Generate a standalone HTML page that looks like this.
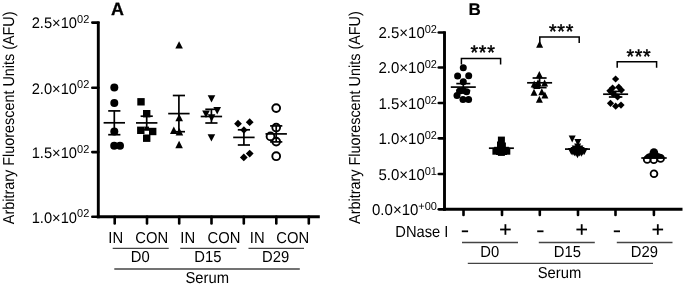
<!DOCTYPE html>
<html><head><meta charset="utf-8"><title>Figure</title>
<style>
html,body{margin:0;padding:0;background:#fff;}
body{width:685px;height:286px;overflow:hidden;}
svg{display:block;filter:grayscale(1);}
svg text{font-family:"Liberation Sans",sans-serif;fill:#000;text-rendering:geometricPrecision;}
</style></head>
<body>
<svg width="685" height="286" viewBox="0 0 685 286">
<rect x="0" y="0" width="685" height="286" fill="#fff"/>
<line x1="98.30" y1="21.50" x2="98.30" y2="218.25" stroke="#000" stroke-width="2.9" stroke-linecap="butt"/>
<line x1="96.85" y1="216.80" x2="319.80" y2="216.80" stroke="#000" stroke-width="2.9" stroke-linecap="butt"/>
<line x1="92.30" y1="22.60" x2="98.30" y2="22.60" stroke="#000" stroke-width="2.6" stroke-linecap="round"/>
<text transform="translate(89.30,28.40) scale(1,1.04)" font-size="14.7" text-anchor="end">2.5×10<tspan font-size="11.0" dy="-5.00">02</tspan></text>
<line x1="92.30" y1="87.70" x2="98.30" y2="87.70" stroke="#000" stroke-width="2.6" stroke-linecap="round"/>
<text transform="translate(89.30,93.50) scale(1,1.04)" font-size="14.7" text-anchor="end">2.0×10<tspan font-size="11.0" dy="-5.00">02</tspan></text>
<line x1="92.30" y1="152.10" x2="98.30" y2="152.10" stroke="#000" stroke-width="2.6" stroke-linecap="round"/>
<text transform="translate(89.30,157.90) scale(1,1.04)" font-size="14.7" text-anchor="end">1.5×10<tspan font-size="11.0" dy="-5.00">02</tspan></text>
<line x1="92.30" y1="216.70" x2="98.30" y2="216.70" stroke="#000" stroke-width="2.6" stroke-linecap="round"/>
<text transform="translate(89.30,222.50) scale(1,1.04)" font-size="14.7" text-anchor="end">1.0×10<tspan font-size="11.0" dy="-5.00">02</tspan></text>
<line x1="114.70" y1="216.80" x2="114.70" y2="223.40" stroke="#000" stroke-width="2.6" stroke-linecap="round"/>
<line x1="147.00" y1="216.80" x2="147.00" y2="223.40" stroke="#000" stroke-width="2.6" stroke-linecap="round"/>
<line x1="179.20" y1="216.80" x2="179.20" y2="223.40" stroke="#000" stroke-width="2.6" stroke-linecap="round"/>
<line x1="211.50" y1="216.80" x2="211.50" y2="223.40" stroke="#000" stroke-width="2.6" stroke-linecap="round"/>
<line x1="243.80" y1="216.80" x2="243.80" y2="223.40" stroke="#000" stroke-width="2.6" stroke-linecap="round"/>
<line x1="276.30" y1="216.80" x2="276.30" y2="223.40" stroke="#000" stroke-width="2.6" stroke-linecap="round"/>
<line x1="308.80" y1="216.80" x2="308.80" y2="223.40" stroke="#000" stroke-width="2.6" stroke-linecap="round"/>
<text transform="translate(111.00,15.10) scale(1,1.0)" font-size="17.9" text-anchor="start" font-weight="bold" stroke="#000" stroke-width="0.3">A</text>
<text transform="translate(108.30,243.00) scale(1,1.07)" font-size="14.8" text-anchor="start" font-weight="normal" >IN</text>
<text transform="translate(135.30,243.00) scale(1,1.07)" font-size="14.8" text-anchor="start" font-weight="normal" >CON</text>
<text transform="translate(180.30,243.00) scale(1,1.07)" font-size="14.8" text-anchor="start" font-weight="normal" >IN</text>
<text transform="translate(207.60,243.00) scale(1,1.07)" font-size="14.8" text-anchor="start" font-weight="normal" >CON</text>
<text transform="translate(249.80,243.00) scale(1,1.07)" font-size="14.8" text-anchor="start" font-weight="normal" >IN</text>
<text transform="translate(276.20,243.00) scale(1,1.07)" font-size="14.8" text-anchor="start" font-weight="normal" >CON</text>
<line x1="112.70" y1="248.40" x2="168.70" y2="248.40" stroke="#444" stroke-width="1.3" stroke-linecap="butt"/>
<text transform="translate(140.20,262.20) scale(1,1.07)" font-size="14.8" text-anchor="middle" font-weight="normal" >D0</text>
<line x1="180.20" y1="248.40" x2="236.40" y2="248.40" stroke="#444" stroke-width="1.3" stroke-linecap="butt"/>
<text transform="translate(207.80,262.20) scale(1,1.07)" font-size="14.8" text-anchor="middle" font-weight="normal" >D15</text>
<line x1="248.50" y1="248.40" x2="304.00" y2="248.40" stroke="#444" stroke-width="1.3" stroke-linecap="butt"/>
<text transform="translate(275.60,262.20) scale(1,1.07)" font-size="14.8" text-anchor="middle" font-weight="normal" >D29</text>
<line x1="114.30" y1="269.00" x2="299.80" y2="269.00" stroke="#444" stroke-width="1.3" stroke-linecap="butt"/>
<text transform="translate(207.20,283.00) scale(1,1.07)" font-size="14.8" text-anchor="middle" font-weight="normal" >Serum</text>
<text transform="translate(14.1,117.8) rotate(-90) scale(1,1.1)" font-size="14.4" text-anchor="middle">Arbitrary Fluorescent Units (AFU)</text>
<circle cx="114.30" cy="87.60" r="4.0" fill="#000"/>
<circle cx="114.30" cy="103.00" r="4.0" fill="#000"/>
<circle cx="114.30" cy="131.40" r="4.0" fill="#000"/>
<circle cx="114.20" cy="145.80" r="4.0" fill="#000"/>
<circle cx="120.00" cy="145.80" r="4.0" fill="#000"/>
<line x1="114.30" y1="110.90" x2="114.30" y2="134.70" stroke="#000" stroke-width="1.7" stroke-linecap="butt"/>
<line x1="103.60" y1="122.80" x2="125.00" y2="122.80" stroke="#000" stroke-width="1.7" stroke-linecap="butt"/>
<line x1="108.20" y1="110.90" x2="120.40" y2="110.90" stroke="#000" stroke-width="1.7" stroke-linecap="butt"/>
<line x1="108.20" y1="134.70" x2="120.40" y2="134.70" stroke="#000" stroke-width="1.7" stroke-linecap="butt"/>
<rect x="137.30" y="98.10" width="7.4" height="7.4" fill="#000"/>
<rect x="143.00" y="110.00" width="7.4" height="7.4" fill="#000"/>
<rect x="137.10" y="126.60" width="7.4" height="7.4" fill="#000"/>
<rect x="149.00" y="127.80" width="7.4" height="7.4" fill="#000"/>
<rect x="143.00" y="134.50" width="7.4" height="7.4" fill="#000"/>
<line x1="146.70" y1="116.20" x2="146.70" y2="129.60" stroke="#000" stroke-width="1.7" stroke-linecap="butt"/>
<line x1="136.00" y1="122.90" x2="157.40" y2="122.90" stroke="#000" stroke-width="1.7" stroke-linecap="butt"/>
<line x1="140.60" y1="116.20" x2="152.80" y2="116.20" stroke="#000" stroke-width="1.7" stroke-linecap="butt"/>
<line x1="140.60" y1="129.60" x2="152.80" y2="129.60" stroke="#000" stroke-width="1.7" stroke-linecap="butt"/>
<rect x="144.4" y="126.6" width="4.6" height="4.0" fill="#000"/>
<polygon points="179.10,41.20 175.30,48.60 182.90,48.60" fill="#000"/>
<polygon points="179.20,113.80 175.40,121.20 183.00,121.20" fill="#000"/>
<polygon points="173.80,126.60 170.00,134.00 177.60,134.00" fill="#000"/>
<polygon points="179.40,128.00 175.60,135.40 183.20,135.40" fill="#000"/>
<polygon points="179.10,140.80 175.30,148.20 182.90,148.20" fill="#000"/>
<line x1="178.90" y1="95.50" x2="178.90" y2="131.70" stroke="#000" stroke-width="1.7" stroke-linecap="butt"/>
<line x1="168.20" y1="113.60" x2="189.60" y2="113.60" stroke="#000" stroke-width="1.7" stroke-linecap="butt"/>
<line x1="172.80" y1="95.50" x2="185.00" y2="95.50" stroke="#000" stroke-width="1.7" stroke-linecap="butt"/>
<line x1="172.80" y1="131.70" x2="185.00" y2="131.70" stroke="#000" stroke-width="1.7" stroke-linecap="butt"/>
<polygon points="207.70,95.20 215.30,95.20 211.50,102.60" fill="#000"/>
<polygon points="213.40,107.00 221.00,107.00 217.20,114.40" fill="#000"/>
<polygon points="202.20,110.60 209.80,110.60 206.00,118.00" fill="#000"/>
<polygon points="207.80,114.30 215.40,114.30 211.60,121.70" fill="#000"/>
<polygon points="207.60,134.20 215.20,134.20 211.40,141.60" fill="#000"/>
<line x1="211.40" y1="109.30" x2="211.40" y2="123.00" stroke="#000" stroke-width="1.7" stroke-linecap="butt"/>
<line x1="200.70" y1="116.50" x2="222.10" y2="116.50" stroke="#000" stroke-width="1.7" stroke-linecap="butt"/>
<line x1="205.30" y1="109.30" x2="217.50" y2="109.30" stroke="#000" stroke-width="1.7" stroke-linecap="butt"/>
<line x1="205.30" y1="123.00" x2="217.50" y2="123.00" stroke="#000" stroke-width="1.7" stroke-linecap="butt"/>
<polygon points="238.00,119.80 241.90,123.70 238.00,127.60 234.10,123.70" fill="#000"/>
<polygon points="249.70,118.30 253.60,122.20 249.70,126.10 245.80,122.20" fill="#000"/>
<polygon points="243.90,126.30 247.60,130.00 243.90,133.70 240.20,130.00" fill="#000"/>
<polygon points="249.70,149.70 253.60,153.60 249.70,157.50 245.80,153.60" fill="#000"/>
<polygon points="243.80,153.50 247.70,157.40 243.80,161.30 239.90,157.40" fill="#000"/>
<line x1="243.90" y1="129.80" x2="243.90" y2="145.00" stroke="#000" stroke-width="1.7" stroke-linecap="butt"/>
<line x1="233.20" y1="137.40" x2="254.60" y2="137.40" stroke="#000" stroke-width="1.7" stroke-linecap="butt"/>
<line x1="237.80" y1="129.80" x2="250.00" y2="129.80" stroke="#000" stroke-width="1.7" stroke-linecap="butt"/>
<line x1="237.80" y1="145.00" x2="250.00" y2="145.00" stroke="#000" stroke-width="1.7" stroke-linecap="butt"/>
<circle cx="276.20" cy="108.10" r="3.9" fill="none" stroke="#000" stroke-width="1.9"/>
<circle cx="276.20" cy="127.60" r="3.9" fill="none" stroke="#000" stroke-width="1.9"/>
<circle cx="270.50" cy="136.40" r="3.9" fill="none" stroke="#000" stroke-width="1.9"/>
<circle cx="276.20" cy="141.60" r="3.9" fill="none" stroke="#000" stroke-width="1.9"/>
<circle cx="276.20" cy="156.20" r="3.9" fill="none" stroke="#000" stroke-width="1.9"/>
<line x1="276.20" y1="125.90" x2="276.20" y2="141.90" stroke="#000" stroke-width="1.7" stroke-linecap="butt"/>
<line x1="265.50" y1="133.90" x2="286.90" y2="133.90" stroke="#000" stroke-width="1.7" stroke-linecap="butt"/>
<line x1="270.10" y1="125.90" x2="282.30" y2="125.90" stroke="#000" stroke-width="1.7" stroke-linecap="butt"/>
<line x1="270.10" y1="141.90" x2="282.30" y2="141.90" stroke="#000" stroke-width="1.7" stroke-linecap="butt"/>
<line x1="444.50" y1="31.40" x2="444.50" y2="210.75" stroke="#000" stroke-width="2.9" stroke-linecap="butt"/>
<line x1="443.05" y1="209.30" x2="682.50" y2="209.30" stroke="#000" stroke-width="2.9" stroke-linecap="butt"/>
<line x1="438.80" y1="32.50" x2="444.50" y2="32.50" stroke="#000" stroke-width="2.7" stroke-linecap="round"/>
<text transform="translate(437.00,38.30) scale(1,1.04)" font-size="15.0" text-anchor="end">2.5×10<tspan font-size="11.0" dy="-5.00">02</tspan></text>
<line x1="438.80" y1="67.50" x2="444.50" y2="67.50" stroke="#000" stroke-width="2.7" stroke-linecap="round"/>
<text transform="translate(437.00,73.30) scale(1,1.04)" font-size="15.0" text-anchor="end">2.0×10<tspan font-size="11.0" dy="-5.00">02</tspan></text>
<line x1="438.80" y1="103.00" x2="444.50" y2="103.00" stroke="#000" stroke-width="2.7" stroke-linecap="round"/>
<text transform="translate(437.00,108.80) scale(1,1.04)" font-size="15.0" text-anchor="end">1.5×10<tspan font-size="11.0" dy="-5.00">02</tspan></text>
<line x1="438.80" y1="138.30" x2="444.50" y2="138.30" stroke="#000" stroke-width="2.7" stroke-linecap="round"/>
<text transform="translate(437.00,144.10) scale(1,1.04)" font-size="15.0" text-anchor="end">1.0×10<tspan font-size="11.0" dy="-5.00">02</tspan></text>
<line x1="438.80" y1="174.00" x2="444.50" y2="174.00" stroke="#000" stroke-width="2.7" stroke-linecap="round"/>
<text transform="translate(437.00,179.80) scale(1,1.04)" font-size="15.0" text-anchor="end">5.0×10<tspan font-size="11.0" dy="-5.00">01</tspan></text>
<line x1="438.80" y1="209.30" x2="444.50" y2="209.30" stroke="#000" stroke-width="2.7" stroke-linecap="round"/>
<text transform="translate(437.00,215.10) scale(1,1.04)" font-size="15.0" text-anchor="end">0.0×10<tspan font-size="11.0" dy="-5.00">+00</tspan></text>
<line x1="463.50" y1="209.30" x2="463.50" y2="214.90" stroke="#000" stroke-width="2.6" stroke-linecap="round"/>
<line x1="502.00" y1="209.30" x2="502.00" y2="214.90" stroke="#000" stroke-width="2.6" stroke-linecap="round"/>
<line x1="539.80" y1="209.30" x2="539.80" y2="214.90" stroke="#000" stroke-width="2.6" stroke-linecap="round"/>
<line x1="578.00" y1="209.30" x2="578.00" y2="214.90" stroke="#000" stroke-width="2.6" stroke-linecap="round"/>
<line x1="615.50" y1="209.30" x2="615.50" y2="214.90" stroke="#000" stroke-width="2.6" stroke-linecap="round"/>
<line x1="653.90" y1="209.30" x2="653.90" y2="214.90" stroke="#000" stroke-width="2.6" stroke-linecap="round"/>
<text transform="translate(468.40,15.10) scale(1,1.0)" font-size="17.0" text-anchor="start" font-weight="bold" stroke="#000" stroke-width="0.15">B</text>
<text transform="translate(395.30,237.40) scale(1,1.09)" font-size="14.7" text-anchor="start" font-weight="normal" >DNase I</text>
<line x1="461.80" y1="231.30" x2="468.10" y2="231.30" stroke="#000" stroke-width="1.8" stroke-linecap="butt"/>
<line x1="537.20" y1="231.30" x2="543.50" y2="231.30" stroke="#000" stroke-width="1.8" stroke-linecap="butt"/>
<line x1="613.80" y1="231.30" x2="620.00" y2="231.30" stroke="#000" stroke-width="1.8" stroke-linecap="butt"/>
<line x1="500.10" y1="229.50" x2="510.70" y2="229.50" stroke="#000" stroke-width="1.8" stroke-linecap="butt"/>
<line x1="505.40" y1="224.20" x2="505.40" y2="234.80" stroke="#000" stroke-width="1.8" stroke-linecap="butt"/>
<line x1="576.40" y1="229.50" x2="587.00" y2="229.50" stroke="#000" stroke-width="1.8" stroke-linecap="butt"/>
<line x1="581.70" y1="224.20" x2="581.70" y2="234.80" stroke="#000" stroke-width="1.8" stroke-linecap="butt"/>
<line x1="652.50" y1="229.50" x2="663.10" y2="229.50" stroke="#000" stroke-width="1.8" stroke-linecap="butt"/>
<line x1="657.80" y1="224.20" x2="657.80" y2="234.80" stroke="#000" stroke-width="1.8" stroke-linecap="butt"/>
<line x1="462.00" y1="242.50" x2="518.00" y2="242.50" stroke="#444" stroke-width="1.3" stroke-linecap="butt"/>
<text transform="translate(489.80,257.20) scale(1,1.07)" font-size="14.8" text-anchor="middle" font-weight="normal" >D0</text>
<line x1="538.80" y1="242.50" x2="594.80" y2="242.50" stroke="#444" stroke-width="1.3" stroke-linecap="butt"/>
<text transform="translate(567.40,257.20) scale(1,1.07)" font-size="14.8" text-anchor="middle" font-weight="normal" >D15</text>
<line x1="616.80" y1="242.50" x2="672.50" y2="242.50" stroke="#444" stroke-width="1.3" stroke-linecap="butt"/>
<text transform="translate(644.30,257.20) scale(1,1.07)" font-size="14.8" text-anchor="middle" font-weight="normal" >D29</text>
<line x1="467.80" y1="263.30" x2="653.00" y2="263.30" stroke="#444" stroke-width="1.3" stroke-linecap="butt"/>
<text transform="translate(559.50,277.50) scale(1,1.07)" font-size="14.8" text-anchor="middle" font-weight="normal" >Serum</text>
<text transform="translate(359.9,117.6) rotate(-90) scale(1,1.1)" font-size="14.4" text-anchor="middle">Arbitrary Fluorescent Units (AFU)</text>
<polyline points="461.4,64.6 461.4,58.6 500.6,58.6 500.6,64.6" fill="none" stroke="#000" stroke-width="1.5"/>
<text transform="translate(483.00,59.30) scale(1,1.0)" font-size="19.6" text-anchor="middle" font-weight="normal" stroke="#000" stroke-width="0.5" letter-spacing="0.7">***</text>
<polyline points="539.8,43.0 539.8,37.0 579.2,37.0 579.2,43.0" fill="none" stroke="#000" stroke-width="1.5"/>
<text transform="translate(561.50,38.10) scale(1,1.0)" font-size="19.6" text-anchor="middle" font-weight="normal" stroke="#000" stroke-width="0.5" letter-spacing="0.7">***</text>
<polyline points="617.2,67.8 617.2,61.8 656.6,61.8 656.6,67.8" fill="none" stroke="#000" stroke-width="1.5"/>
<text transform="translate(638.90,62.80) scale(1,1.0)" font-size="19.6" text-anchor="middle" font-weight="normal" stroke="#000" stroke-width="0.5" letter-spacing="0.7">***</text>
<circle cx="463.30" cy="67.80" r="3.5" fill="#000"/>
<circle cx="457.60" cy="76.10" r="3.5" fill="#000"/>
<circle cx="468.70" cy="75.70" r="3.5" fill="#000"/>
<circle cx="463.30" cy="81.70" r="3.5" fill="#000"/>
<circle cx="459.60" cy="91.00" r="3.5" fill="#000"/>
<circle cx="466.60" cy="91.80" r="3.5" fill="#000"/>
<circle cx="457.00" cy="95.40" r="3.5" fill="#000"/>
<circle cx="463.20" cy="90.60" r="3.5" fill="#000"/>
<circle cx="463.00" cy="99.60" r="3.5" fill="#000"/>
<circle cx="468.60" cy="99.60" r="3.5" fill="#000"/>
<line x1="463.30" y1="83.60" x2="463.30" y2="90.60" stroke="#000" stroke-width="1.7" stroke-linecap="butt"/>
<line x1="450.80" y1="87.10" x2="475.80" y2="87.10" stroke="#000" stroke-width="1.7" stroke-linecap="butt"/>
<line x1="456.30" y1="83.60" x2="470.30" y2="83.60" stroke="#000" stroke-width="1.7" stroke-linecap="butt"/>
<line x1="456.30" y1="90.60" x2="470.30" y2="90.60" stroke="#000" stroke-width="1.7" stroke-linecap="butt"/>
<rect x="497.90" y="136.60" width="7.0" height="7.0" fill="#000"/>
<rect x="497.00" y="141.50" width="7.0" height="7.0" fill="#000"/>
<rect x="498.90" y="142.50" width="7.0" height="7.0" fill="#000"/>
<rect x="494.10" y="146.80" width="7.0" height="7.0" fill="#000"/>
<rect x="501.90" y="146.80" width="7.0" height="7.0" fill="#000"/>
<rect x="492.40" y="147.70" width="7.0" height="7.0" fill="#000"/>
<rect x="503.30" y="147.70" width="7.0" height="7.0" fill="#000"/>
<rect x="497.90" y="148.90" width="7.0" height="7.0" fill="#000"/>
<rect x="496.00" y="148.00" width="7.0" height="7.0" fill="#000"/>
<rect x="500.00" y="148.00" width="7.0" height="7.0" fill="#000"/>
<line x1="488.90" y1="148.20" x2="513.90" y2="148.20" stroke="#000" stroke-width="1.7" stroke-linecap="butt"/>
<polygon points="539.60,40.80 536.10,47.80 543.10,47.80" fill="#000"/>
<polygon points="539.30,71.10 535.80,78.10 542.80,78.10" fill="#000"/>
<polygon points="534.20,80.40 530.70,87.40 537.70,87.40" fill="#000"/>
<polygon points="538.00,79.20 534.50,86.20 541.50,86.20" fill="#000"/>
<polygon points="544.60,79.60 541.10,86.60 548.10,86.60" fill="#000"/>
<polygon points="534.00,88.70 530.50,95.70 537.50,95.70" fill="#000"/>
<polygon points="541.80,88.30 538.30,95.30 545.30,95.30" fill="#000"/>
<polygon points="544.90,91.60 541.40,98.60 548.40,98.60" fill="#000"/>
<polygon points="539.40,95.70 535.90,102.70 542.90,102.70" fill="#000"/>
<polygon points="537.00,82.00 533.50,89.00 540.50,89.00" fill="#000"/>
<line x1="539.60" y1="78.00" x2="539.60" y2="87.60" stroke="#000" stroke-width="1.7" stroke-linecap="butt"/>
<line x1="527.10" y1="82.80" x2="552.10" y2="82.80" stroke="#000" stroke-width="1.7" stroke-linecap="butt"/>
<line x1="532.60" y1="78.00" x2="546.60" y2="78.00" stroke="#000" stroke-width="1.7" stroke-linecap="butt"/>
<line x1="532.60" y1="87.60" x2="546.60" y2="87.60" stroke="#000" stroke-width="1.7" stroke-linecap="butt"/>
<polygon points="568.70,135.40 575.70,135.40 572.20,142.40" fill="#000"/>
<polygon points="574.40,139.00 581.40,139.00 577.90,146.00" fill="#000"/>
<polygon points="574.10,143.60 581.10,143.60 577.60,150.60" fill="#000"/>
<polygon points="571.70,145.40 578.70,145.40 575.20,152.40" fill="#000"/>
<polygon points="576.40,145.40 583.40,145.40 579.90,152.40" fill="#000"/>
<polygon points="567.80,148.00 574.80,148.00 571.30,155.00" fill="#000"/>
<polygon points="570.90,149.30 577.90,149.30 574.40,156.30" fill="#000"/>
<polygon points="574.00,151.20 581.00,151.20 577.50,158.20" fill="#000"/>
<polygon points="577.80,149.70 584.80,149.70 581.30,156.70" fill="#000"/>
<polygon points="580.80,148.00 587.80,148.00 584.30,155.00" fill="#000"/>
<polygon points="569.40,148.60 576.40,148.60 572.90,155.60" fill="#000"/>
<polygon points="572.50,149.40 579.50,149.40 576.00,156.40" fill="#000"/>
<polygon points="575.90,149.60 582.90,149.60 579.40,156.60" fill="#000"/>
<polygon points="579.30,148.60 586.30,148.60 582.80,155.60" fill="#000"/>
<polygon points="570.50,146.90 577.50,146.90 574.00,153.90" fill="#000"/>
<polygon points="577.70,146.90 584.70,146.90 581.20,153.90" fill="#000"/>
<line x1="565.00" y1="149.10" x2="590.00" y2="149.10" stroke="#000" stroke-width="1.7" stroke-linecap="butt"/>
<polygon points="615.60,75.40 619.20,79.00 615.60,82.60 612.00,79.00" fill="#000"/>
<polygon points="612.60,84.40 616.20,88.00 612.60,91.60 609.00,88.00" fill="#000"/>
<polygon points="618.80,83.60 622.40,87.20 618.80,90.80 615.20,87.20" fill="#000"/>
<polygon points="609.90,87.20 613.50,90.80 609.90,94.40 606.30,90.80" fill="#000"/>
<polygon points="621.40,86.50 625.00,90.10 621.40,93.70 617.80,90.10" fill="#000"/>
<polygon points="613.20,90.40 616.80,94.00 613.20,97.60 609.60,94.00" fill="#000"/>
<polygon points="617.60,93.40 621.20,97.00 617.60,100.60 614.00,97.00" fill="#000"/>
<polygon points="610.50,99.70 614.10,103.30 610.50,106.90 606.90,103.30" fill="#000"/>
<polygon points="615.70,102.60 619.30,106.20 615.70,109.80 612.10,106.20" fill="#000"/>
<polygon points="621.00,101.50 624.60,105.10 621.00,108.70 617.40,105.10" fill="#000"/>
<line x1="615.60" y1="91.40" x2="615.60" y2="97.00" stroke="#000" stroke-width="1.7" stroke-linecap="butt"/>
<line x1="603.10" y1="94.20" x2="628.10" y2="94.20" stroke="#000" stroke-width="1.7" stroke-linecap="butt"/>
<line x1="608.85" y1="91.40" x2="622.35" y2="91.40" stroke="#000" stroke-width="1.7" stroke-linecap="butt"/>
<line x1="608.85" y1="97.00" x2="622.35" y2="97.00" stroke="#000" stroke-width="1.7" stroke-linecap="butt"/>
<circle cx="653.9" cy="152.6" r="4.3" fill="#000"/>
<path d="M644.9,158.7 L644.9,157.0 C645.1,154.8 647.4,153.7 650.0,153.1 L658.0,153.1 C660.6,153.7 663.0,154.8 663.3,157.0 L663.3,158.7 Z" fill="#000"/>
<circle cx="647.20" cy="159.50" r="3.4" fill="none" stroke="#000" stroke-width="1.8"/>
<circle cx="660.60" cy="158.40" r="3.4" fill="none" stroke="#000" stroke-width="1.8"/>
<circle cx="653.80" cy="159.80" r="3.4" fill="none" stroke="#000" stroke-width="1.8"/>
<circle cx="654.00" cy="173.80" r="3.4" fill="none" stroke="#000" stroke-width="1.8"/>
<line x1="641.30" y1="158.00" x2="666.70" y2="158.00" stroke="#000" stroke-width="1.7" stroke-linecap="butt"/>
</svg>
</body></html>
